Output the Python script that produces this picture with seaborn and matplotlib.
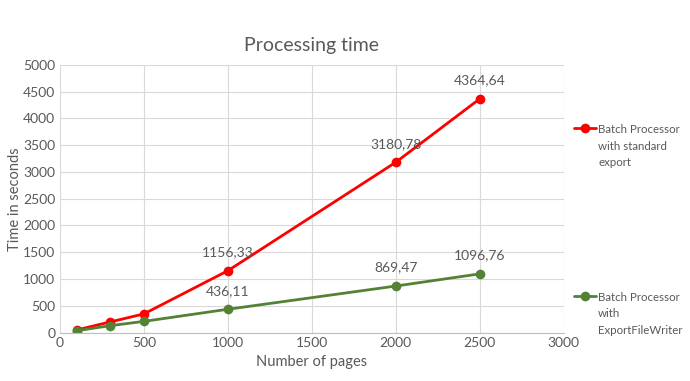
import pandas as pd
import numpy as np
import seaborn as sns
import matplotlib.pyplot as plt

# -----------------------------
# DATA
# -----------------------------
pages = [100, 300, 500, 1000, 2000, 2500]
standard_export = [50, 200, 350, 1156.33, 3180.78, 4364.64]
file_writer = [35, 130, 210, 436.11, 869.47, 1096.76]
labelled = [1000, 2000, 2500]

series_names = ['Batch Processor\nwith standard\nexport', 'Batch Processor\nwith\nExportFileWriter']
colors = ['#ff0000', '#548235']

df = pd.DataFrame({
    'pages': pages * 2,
    'seconds': standard_export + file_writer,
    'series': [series_names[0]] * len(pages) + [series_names[1]] * len(pages),
})

# -----------------------------
# PLOT
# -----------------------------
sns.set_style('white')
plt.rcParams['font.family'] = ['Lato', 'DejaVu Sans']
text_gray = '#595959'

fig, ax = plt.subplots(figsize=(6.9, 3.81), dpi=100)
fig.subplots_adjust(left=0.087, right=0.817, top=0.83, bottom=0.127)

sns.lineplot(data=df, x='pages', y='seconds', hue='series', palette=colors,
             marker='o', markersize=7, markeredgewidth=0, linewidth=2, ax=ax)

# data labels
for vals in (standard_export, file_writer):
    for x, y in zip(pages, vals):
        if x in labelled:
            ax.annotate(f'{y:.2f}'.replace('.', ','), (x, y), xytext=(0, 9),
                        textcoords='offset points', ha='center', va='bottom',
                        fontsize=10, color=text_gray)

ax.set_xlim(0, 3000)
ax.set_ylim(0, 5000)
ax.set_xticks(np.arange(0, 3001, 500))
ax.set_yticks(np.arange(0, 5001, 500))
ax.grid(True, color='#d9d9d9', linewidth=0.8)
ax.set_axisbelow(True)
for side in ['top', 'right', 'left']:
    ax.spines[side].set_visible(False)
ax.spines['bottom'].set_color('#bfbfbf')
ax.tick_params(colors=text_gray, labelsize=10, length=0)

ax.set_xlabel('Number of pages', color=text_gray, fontsize=10.5)
ax.set_ylabel('Time in seconds', color=text_gray, fontsize=10.5, labelpad=1)
ax.set_title('Processing time', color=text_gray, fontsize=14, pad=10)

handles, labels = ax.get_legend_handles_labels()
leg = ax.legend(handles, labels, loc='upper left', bbox_to_anchor=(1.02, 0.778),
                frameon=False, fontsize=8.3, labelcolor=text_gray, labelspacing=10.75,
                handlelength=1.9, handletextpad=0.2, borderpad=0, borderaxespad=0,
                title=None)
for t in leg.get_texts():
    t.set_linespacing(1.6)
# put the marker next to the first line of each label
for col in leg._legend_handle_box.get_children():
    for item in col.get_children():
        item.align = 'top'

plt.savefig('out.png', dpi=100)
